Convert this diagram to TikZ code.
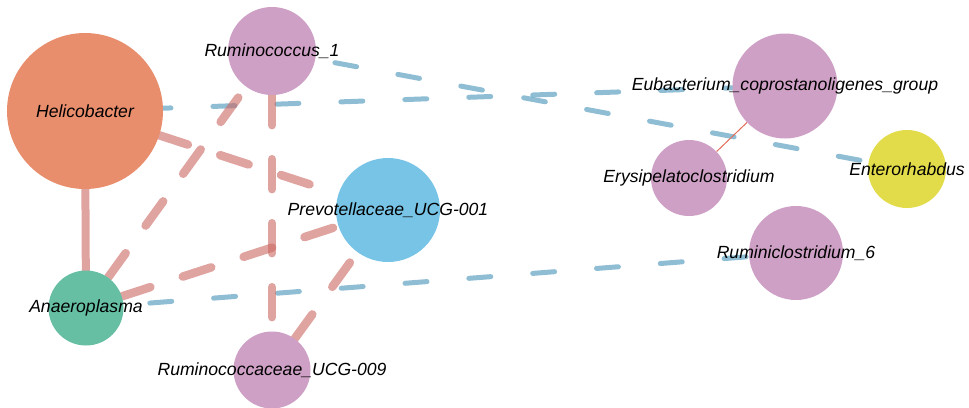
\documentclass[tikz,border=0pt]{standalone}
\usepackage{fontspec}
\setmainfont{Liberation Sans}
\usepackage{tikz}
\usetikzlibrary{backgrounds}

\definecolor{orgC}{RGB}{232,142,109}
\definecolor{pinkC}{RGB}{206,160,197}
\definecolor{blueC}{RGB}{120,196,230}
\definecolor{greenC}{RGB}{102,191,163}
\definecolor{yelC}{RGB}{226,220,74}
\definecolor{posC}{RGB}{203,103,97}
\definecolor{negC}{RGB}{95,162,194}
\definecolor{thinC}{RGB}{224,110,90}

\begin{document}
\begin{tikzpicture}[x=1pt,y=-1pt,
  taxon/.style={circle,inner sep=0pt,
    label={[font=\fontsize{17.6}{20}\selectfont\itshape]center:#1}},
  poslink/.style={draw=posC,opacity=0.6,line width=8.5pt,line cap=round,
    dash pattern=on 30pt off 34pt},
  neglink/.style={draw=negC,opacity=0.7,line width=5pt,line cap=round,
    dash pattern=on 22pt off 42pt}]
\useasboundingbox (0,0) rectangle (969,407);

\node (hel) at (85,111)[taxon=Helicobacter,fill=orgC,minimum size=156pt] {};
\node (rum1) at (272,51)[taxon=Ruminococcus\_1,fill=pinkC,minimum size=88pt] {};
\node (prev) at (388,210)[taxon=Prevotellaceae\_UCG-001,fill=blueC,minimum size=104pt] {};
\node (ana) at (86,308)[taxon=Anaeroplasma,fill=greenC,minimum size=75pt] {};
\node (ucg9) at (272,370)[taxon=Ruminococcaceae\_UCG-009,fill=pinkC,minimum size=77pt] {};
\node (eub) at (785,86)[taxon=Eubacterium\_coprostanoligenes\_group,fill=pinkC,minimum size=105pt] {};
\node (ery) at (689,178)[taxon=Erysipelatoclostridium,fill=pinkC,minimum size=76pt] {};
\node (ent) at (907,169)[taxon=Enterorhabdus,fill=yelC,minimum size=78pt] {};
\node (rcl6) at (796,253)[taxon=Ruminiclostridium\_6,fill=pinkC,minimum size=94pt] {};

\begin{scope}[on background layer]
% negative links
\draw[neglink] (hel.center) -- (eub.center);
\draw[neglink] (rum1.center) -- (ent.center);
\draw[neglink] (ana.center) -- (rcl6.center);
% positive links
\draw[draw=posC,opacity=0.6,line width=8pt] (hel.center) -- (ana.center);
\draw[poslink] (hel) -- (prev);
\draw[poslink] (ana) -- (rum1);
\draw[poslink] (ana) -- (prev);
\draw[poslink] (rum1) -- (ucg9);
\draw[poslink] (ucg9) -- (prev);
\draw[draw=thinC,line width=1pt] (ery) -- (eub);
\end{scope}

\end{tikzpicture}
\end{document}
